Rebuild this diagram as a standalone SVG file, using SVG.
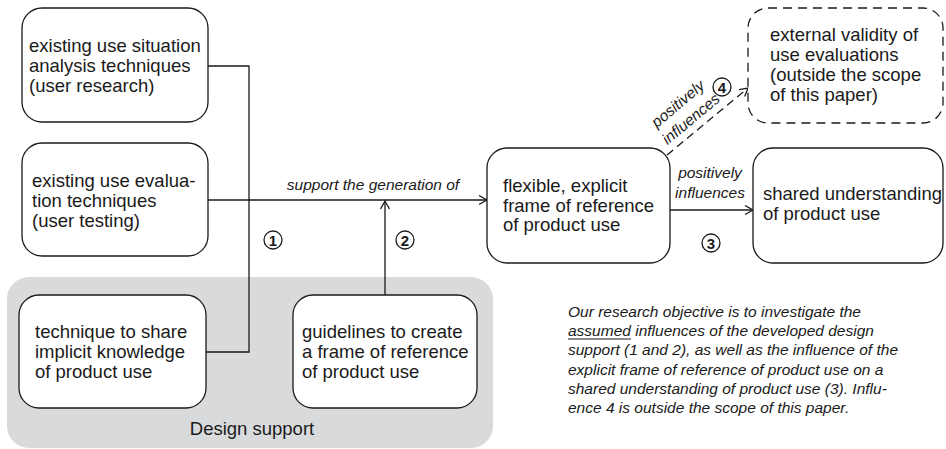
<svg xmlns="http://www.w3.org/2000/svg" width="946" height="449" viewBox="0 0 946 449">
  <style>
    .box { fill: #ffffff; stroke: #1a1a1a; stroke-width: 1.3; }
    .dash { fill: #ffffff; stroke: #1a1a1a; stroke-width: 1.3; stroke-dasharray: 9 6; }
    .t { font-family: "Liberation Sans", Arial, sans-serif; font-size: 18.5px; fill: #1a1a1a; }
    .lbl { font-family: "Liberation Sans", Arial, sans-serif; font-size: 15.5px; font-style: italic; fill: #1a1a1a; }
    .num { font-family: "Liberation Sans", Arial, sans-serif; font-size: 15px; font-weight: bold; fill: #1a1a1a; text-anchor: middle; }
    .circ { fill: #ffffff; stroke: #1a1a1a; stroke-width: 1.3; }
    .wire { fill: none; stroke: #1a1a1a; stroke-width: 1.3; }
  </style>
  <defs>
    <marker id="arrow" markerUnits="userSpaceOnUse" markerWidth="12" markerHeight="12" refX="9" refY="5" orient="auto">
      <path d="M1,0.5 L9,5 L1,9.5" fill="none" stroke="#1a1a1a" stroke-width="1.3"/>
    </marker>
  </defs>

  <!-- design support region -->
  <g id="design-support">
    <rect x="7" y="277" width="486" height="171" rx="22" fill="#d9dadc"/>
    <text class="t" x="252" y="435" text-anchor="middle">Design support</text>
  </g>

  <!-- connectors -->
  <g id="connectors">
    <polyline class="wire" points="208,66 249,66 249,352 206,352"/>
    <line class="wire" x1="208" y1="200" x2="487" y2="200" marker-end="url(#arrow)"/>
    <line class="wire" x1="385" y1="295" x2="385" y2="201" marker-end="url(#arrow)"/>
    <line class="wire" x1="670" y1="210" x2="753" y2="210" marker-end="url(#arrow)"/>
    <line class="wire" x1="667" y1="155" x2="748" y2="88" stroke-dasharray="8 5" marker-end="url(#arrow)"/>
    <text class="lbl" x="710" y="178" text-anchor="middle">positively</text>
    <text class="lbl" x="710" y="198" text-anchor="middle">influences</text>
    <text class="lbl" x="373" y="190" text-anchor="middle">support the generation of</text>
    <g transform="translate(678,104) rotate(-40)">
      <text class="lbl" x="0" y="5" text-anchor="middle">positively</text>
    </g>
    <g transform="translate(691,119) rotate(-40)">
      <text class="lbl" x="0" y="5" text-anchor="middle">influences</text>
    </g>
    <circle class="circ" cx="273" cy="240" r="9"/>
    <text class="num" x="273" y="245.5">1</text>
    <circle class="circ" cx="405" cy="240" r="9"/>
    <text class="num" x="405" y="245.5">2</text>
    <circle class="circ" cx="711" cy="243" r="9"/>
    <text class="num" x="711" y="248.5">3</text>
    <circle class="circ" cx="722" cy="87" r="9"/>
    <text class="num" x="722" y="92.5">4</text>
  </g>

  <g id="user-research">
    <rect class="box" x="22" y="8" width="186" height="114" rx="20"/>
    <text class="t" x="29" y="52">existing use situation</text>
    <text class="t" x="29" y="72">analysis techniques</text>
    <text class="t" x="29" y="92">(user research)</text>
  </g>

  <g id="user-testing">
    <rect class="box" x="22" y="143" width="186" height="113" rx="20"/>
    <text class="t" x="32" y="187">existing use evalua-</text>
    <text class="t" x="32" y="207">tion techniques</text>
    <text class="t" x="32" y="227">(user testing)</text>
  </g>

  <g id="share-technique">
    <rect class="box" x="19" y="295" width="187" height="113" rx="20"/>
    <text class="t" x="35" y="338">technique to share</text>
    <text class="t" x="35" y="358">implicit knowledge</text>
    <text class="t" x="35" y="378">of product use</text>
  </g>

  <g id="guidelines">
    <rect class="box" x="293" y="295" width="184" height="113" rx="20"/>
    <text class="t" x="302" y="338">guidelines to create</text>
    <text class="t" x="302" y="358">a frame of reference</text>
    <text class="t" x="302" y="378">of product use</text>
  </g>

  <g id="frame-of-reference">
    <rect class="box" x="487" y="148" width="183" height="115" rx="20"/>
    <text class="t" x="503" y="192">flexible, explicit</text>
    <text class="t" x="503" y="212">frame of reference</text>
    <text class="t" x="503" y="231">of product use</text>
  </g>

  <g id="shared-understanding">
    <rect class="box" x="753" y="148" width="190" height="115" rx="20"/>
    <text class="t" x="763" y="200">shared understanding</text>
    <text class="t" x="763" y="220">of product use</text>
  </g>

  <g id="external-validity">
    <rect class="dash" x="748" y="8" width="195" height="115" rx="20"/>
    <text class="t" x="770" y="41">external validity of</text>
    <text class="t" x="770" y="61">use evaluations</text>
    <text class="t" x="770" y="81">(outside the scope</text>
    <text class="t" x="770" y="101">of this paper)</text>
  </g>

  <g id="objective-note">
    <text class="lbl" x="568" y="317">Our research objective is to investigate the</text>
    <text class="lbl" x="568" y="336">assumed influences of the developed design</text>
    <line x1="568" y1="339" x2="631" y2="339" stroke="#1a1a1a" stroke-width="1"/>
    <text class="lbl" x="568" y="355">support (1 and 2), as well as the influence of the</text>
    <text class="lbl" x="568" y="375">explicit frame of reference of product use on a</text>
    <text class="lbl" x="568" y="394">shared understanding of product use (3). Influ-</text>
    <text class="lbl" x="568" y="413">ence 4 is outside the scope of this paper.</text>
  </g>
</svg>
